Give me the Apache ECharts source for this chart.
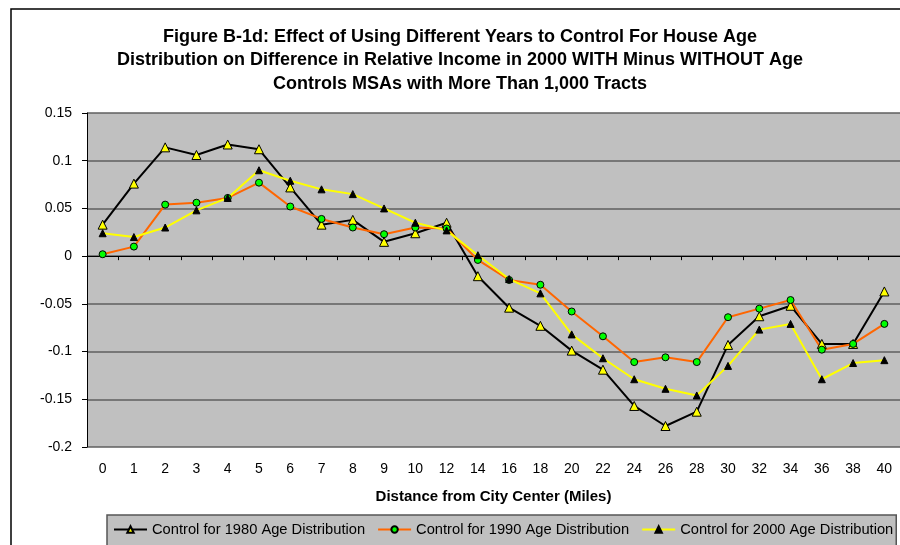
<!DOCTYPE html>
<html>
<head>
<meta charset="utf-8">
<script src="https://cdn.jsdelivr.net/npm/echarts@6/dist/echarts.min.js"></script>
<style>html,body{margin:0;padding:0;background:#fff;}#chart{width:900px;height:545px;}</style>
</head>
<body>
<div id="chart"></div>
<script>
var categories = ['0','1','2','3','4','5','6','7','8','9','10','12','14','16','18','20','22','24','26','28','30','32','34','36','38','40'];
var c1980 = [0.033, 0.076, 0.114, 0.106, 0.117, 0.112, 0.072, 0.033, 0.038, 0.015, 0.024, 0.035, -0.021, -0.054, -0.073, -0.099, -0.119, -0.157, -0.178, -0.163, -0.093, -0.063, -0.052, -0.092, -0.092, -0.037];
var c1990 = [0.002, 0.010, 0.054, 0.056, 0.061, 0.077, 0.052, 0.039, 0.030, 0.023, 0.030, 0.029, -0.004, -0.025, -0.030, -0.058, -0.084, -0.111, -0.106, -0.111, -0.064, -0.055, -0.046, -0.098, -0.092, -0.071];
var c2000 = [0.024, 0.020, 0.030, 0.048, 0.061, 0.090, 0.079, 0.070, 0.065, 0.050, 0.035, 0.027, 0.001, -0.024, -0.039, -0.082, -0.107, -0.129, -0.139, -0.146, -0.115, -0.077, -0.071, -0.129, -0.112, -0.109];
var seriesNames = ['Control for 1980 Age Distribution', 'Control for 1990 Age Distribution', 'Control for 2000 Age Distribution'];
var titleText = 'Figure B-1d: Effect of Using Different Years to Control For House Age\nDistribution on Difference in Relative Income in 2000 WITH Minus WITHOUT Age\nControls MSAs with More Than 1,000 Tracts';
var xTitle = 'Distance from City Center (Miles)';

var FONT = "'Liberation Sans', Arial, sans-serif";
var chart = echarts.init(document.getElementById('chart'), null, {renderer: 'canvas'});
chart.setOption({
  animation: false,
  backgroundColor: '#ffffff',
  textStyle: {fontFamily: FONT, color: '#000'},
  graphic: [{
    type: 'rect', z: -10, silent: true,
    shape: {x: 11, y: 9, width: 1000, height: 1000},
    style: {fill: 'none', stroke: '#000', lineWidth: 1.5}
  }],
  title: {
    text: titleText,
    left: 455, textAlign: 'center', top: 20,
    textStyle: {fontFamily: FONT, fontSize: 18, fontWeight: 'bold', color: '#000', lineHeight: 23.5}
  },
  grid: {left: 87, right: 0, top: 113, bottom: 98, show: true, backgroundColor: '#c0c0c0', borderWidth: 0},
  legend: {
    left: 107, top: 515, width: 830,
    padding: [7, 3, 10, 6],
    itemGap: 12, itemWidth: 33, itemHeight: 8,
    backgroundColor: '#c0c0c0', borderColor: '#555', borderWidth: 1.5,
    textStyle: {fontFamily: FONT, fontSize: 14.7, color: '#000'},
    data: seriesNames
  },
  xAxis: {
    type: 'category', data: categories, boundaryGap: true,
    name: xTitle, nameLocation: 'middle', nameGap: 42,
    nameTextStyle: {fontFamily: FONT, fontSize: 15, fontWeight: 'bold', color: '#000'},
    axisLine: {lineStyle: {color: '#000', width: 1}},
    axisTick: {show: true, length: 4, lineStyle: {color: '#000'}},
    axisLabel: {fontFamily: FONT, fontSize: 14, color: '#000', margin: 15, interval: 0},
    splitLine: {show: false}
  },
  yAxis: {
    type: 'value', min: -0.2, max: 0.15, interval: 0.05,
    axisLine: {show: true, lineStyle: {color: '#000', width: 1}},
    axisTick: {show: true, length: 5, lineStyle: {color: '#000'}},
    axisLabel: {fontFamily: FONT, fontSize: 14, color: '#000', margin: 15},
    splitLine: {show: true, lineStyle: {color: '#5f5f5f', width: 1.5}}
  },
  series: [
    {
      name: seriesNames[0], type: 'line', data: c1980,
      symbol: 'triangle', symbolSize: 9,
      lineStyle: {color: '#000', width: 2},
      itemStyle: {color: '#ffff00', borderColor: '#000', borderWidth: 1}
    },
    {
      name: seriesNames[1], type: 'line', data: c1990,
      symbol: 'circle', symbolSize: 7,
      lineStyle: {color: '#ff6600', width: 2},
      itemStyle: {color: '#00ff00', borderColor: '#000', borderWidth: 1}
    },
    {
      name: seriesNames[2], type: 'line', data: c2000,
      symbol: 'triangle', symbolSize: 7,
      lineStyle: {color: '#ffff00', width: 2},
      itemStyle: {color: '#000', borderColor: '#000', borderWidth: 1}
    }
  ]
});
</script>
</body>
</html>
